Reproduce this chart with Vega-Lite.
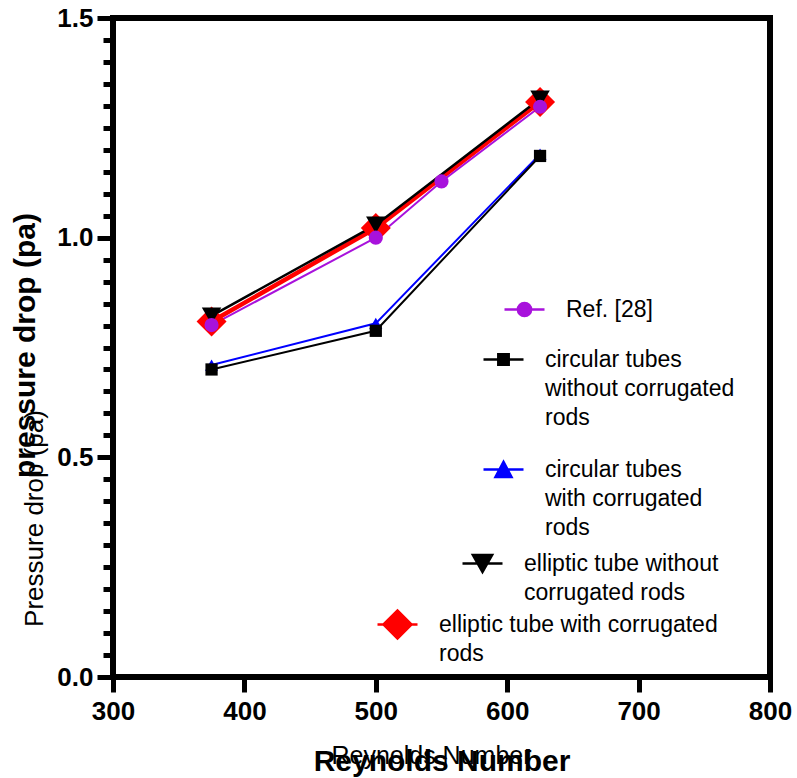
{
  "$schema": "https://vega.github.io/schema/vega-lite/v6.json",
  "width": 657,
  "height": 659,
  "autosize": {"type": "none"},
  "padding": {"left": 113, "top": 18, "right": 27, "bottom": 101},
  "data": {
    "values": [
      {"series": "Ref. [28]", "re": 375, "dp": 0.801},
      {"series": "Ref. [28]", "re": 500, "dp": 1.0},
      {"series": "Ref. [28]", "re": 550, "dp": 1.128},
      {"series": "Ref. [28]", "re": 625, "dp": 1.298},
      {"series": "circular tubes without corrugated rods", "re": 375, "dp": 0.70},
      {"series": "circular tubes without corrugated rods", "re": 500, "dp": 0.788},
      {"series": "circular tubes without corrugated rods", "re": 625, "dp": 1.186},
      {"series": "circular tubes with corrugated rods", "re": 375, "dp": 0.71},
      {"series": "circular tubes with corrugated rods", "re": 500, "dp": 0.805},
      {"series": "circular tubes with corrugated rods", "re": 625, "dp": 1.19},
      {"series": "elliptic tube without corrugated rods", "re": 375, "dp": 0.822},
      {"series": "elliptic tube without corrugated rods", "re": 500, "dp": 1.029},
      {"series": "elliptic tube without corrugated rods", "re": 625, "dp": 1.316},
      {"series": "elliptic tube with corrugated rods", "re": 375, "dp": 0.809},
      {"series": "elliptic tube with corrugated rods", "re": 500, "dp": 1.022},
      {"series": "elliptic tube with corrugated rods", "re": 625, "dp": 1.309}
    ]
  },
  "layer": [
    {
      "transform": [{"filter": "datum.series === 'elliptic tube with corrugated rods'"}],
      "mark": {"type": "line", "color": "#ff0000", "strokeWidth": 4.5},
      "encoding": {
        "x": {"field": "re", "type": "quantitative", "scale": {"domain": [300, 800], "nice": false, "zero": false},
          "axis": {"orient": "bottom", "values": [300, 400, 500, 600, 700, 800], "format": "d", "grid": false, "domain": false,
            "tickSize": 15, "tickWidth": 5, "tickColor": "black", "labelFlush": false,
            "labelFont": "Liberation Sans", "labelFontWeight": "bold", "labelFontSize": 26, "labelColor": "black", "labelPadding": 6,
            "title": "Reynolds Number", "titleFont": "Liberation Sans", "titleFontWeight": "bold", "titleFontSize": 30, "titleColor": "black",
            "titleBaseline": "alphabetic", "titleAlign": "center", "titleX": 328.5, "titleY": 93}},
        "y": {"field": "dp", "type": "quantitative", "scale": {"domain": [0, 1.5], "nice": false},
          "axis": {"orient": "left", "values": [0, 0.5, 1, 1.5], "format": ".1f", "grid": false, "domain": false,
            "tickSize": 16, "tickWidth": 5, "tickColor": "black",
            "labelFont": "Liberation Sans", "labelFontWeight": "bold", "labelFontSize": 26, "labelColor": "black", "labelPadding": 4,
            "title": "pressure drop (pa)", "titleFont": "Liberation Sans", "titleFontWeight": "bold", "titleFontSize": 30, "titleColor": "black",
            "titleBaseline": "alphabetic", "titleAngle": 270, "titleAlign": "center", "titleX": -79, "titleY": 327}}
      }
    },
    {
      "transform": [{"filter": "datum.series === 'elliptic tube without corrugated rods'"}],
      "mark": {"type": "line", "color": "#000000", "strokeWidth": 2.5},
      "encoding": {
        "x": {"field": "re", "type": "quantitative",
          "axis": {"orient": "bottom", "ticks": false, "labels": false, "domain": false, "grid": false,
            "title": "Reynolds Number", "titleFont": "Liberation Sans", "titleFontWeight": "normal", "titleFontSize": 25, "titleColor": "black",
            "titleBaseline": "alphabetic", "titleAlign": "center", "titleX": 318, "titleY": 86}},
        "y": {"field": "dp", "type": "quantitative",
          "axis": {"orient": "left", "values": [0.05, 0.1, 0.15, 0.2, 0.25, 0.3, 0.35, 0.4, 0.45, 0.55, 0.6, 0.65, 0.7, 0.75, 0.8, 0.85, 0.9, 0.95, 1.05, 1.1, 1.15, 1.2, 1.25, 1.3, 1.35, 1.4, 1.45],
            "ticks": true, "labels": false, "domain": false, "grid": false, "tickSize": 10, "tickWidth": 5, "tickColor": "#000000",
            "title": "Pressure drop (pa)", "titleFont": "Liberation Sans", "titleFontWeight": "normal", "titleFontSize": 26, "titleColor": "black",
            "titleBaseline": "alphabetic", "titleAngle": 270, "titleAlign": "center", "titleX": -71, "titleY": 500}}
      }
    },
    {
      "transform": [{"filter": "datum.series === 'circular tubes with corrugated rods'"}],
      "mark": {"type": "line", "color": "#0000ff", "strokeWidth": 2},
      "encoding": {
        "x": {"field": "re", "type": "quantitative", "axis": null},
        "y": {"field": "dp", "type": "quantitative", "axis": null}
      }
    },
    {
      "transform": [{"filter": "datum.series === 'circular tubes without corrugated rods'"}],
      "mark": {"type": "line", "color": "#000000", "strokeWidth": 2},
      "encoding": {
        "x": {"field": "re", "type": "quantitative", "axis": null},
        "y": {"field": "dp", "type": "quantitative", "axis": null}
      }
    },
    {
      "transform": [{"filter": "datum.series === 'Ref. [28]'"}],
      "mark": {"type": "line", "color": "#a812dc", "strokeWidth": 2},
      "encoding": {
        "x": {"field": "re", "type": "quantitative", "axis": null},
        "y": {"field": "dp", "type": "quantitative", "axis": null}
      }
    },
    {
      "transform": [{"filter": "datum.series === 'elliptic tube with corrugated rods'"}],
      "mark": {"type": "point", "filled": true, "shape": "diamond", "size": 900, "opacity": 1},
      "encoding": {
        "x": {"field": "re", "type": "quantitative", "axis": null},
        "y": {"field": "dp", "type": "quantitative", "axis": null},
        "color": {"field": "series", "type": "nominal", "scale": {"domain": ["elliptic tube with corrugated rods"], "range": ["#ff0000"]},
          "legend": {"orient": "none", "legendX": 263, "legendY": 585, "title": null, "padding": 0,
            "symbolType": "M-1,0H1M-0.7,0L0,-0.7L0.7,0L0,0.7Z", "symbolSize": 1600,
            "symbolFillColor": "#ff0000", "symbolStrokeColor": "#ff0000", "symbolStrokeWidth": 2.5, "symbolOpacity": 1,
            "labelFont": "Liberation Sans", "labelFontSize": 23, "labelColor": "black", "labelOffset": 20, "labelLimit": 500,
            "labelExpr": "['elliptic tube with corrugated', 'rods']",
            "encode": {"labels": {"update": {"lineHeight": {"value": 29}}}}}}
      }
    },
    {
      "transform": [{"filter": "datum.series === 'elliptic tube without corrugated rods'"}],
      "mark": {"type": "point", "filled": true, "shape": "triangle-down", "size": 380, "opacity": 1},
      "encoding": {
        "x": {"field": "re", "type": "quantitative", "axis": null},
        "y": {"field": "dp", "type": "quantitative", "axis": null},
        "color": {"field": "series", "type": "nominal", "scale": {"domain": ["elliptic tube without corrugated rods"], "range": ["#000000"]},
          "legend": {"orient": "none", "legendX": 348, "legendY": 524, "title": null, "padding": 0,
            "symbolType": "M-1,0H1M-0.48,-0.42H0.48L0,0.42Z", "symbolSize": 1600,
            "symbolFillColor": "#000000", "symbolStrokeColor": "#000000", "symbolStrokeWidth": 2.5, "symbolOpacity": 1,
            "labelFont": "Liberation Sans", "labelFontSize": 23, "labelColor": "black", "labelOffset": 20, "labelLimit": 500,
            "labelExpr": "['elliptic tube without', 'corrugated rods']",
            "encode": {"labels": {"update": {"lineHeight": {"value": 29}}}}}}
      }
    },
    {
      "transform": [{"filter": "datum.series === 'circular tubes with corrugated rods'"}],
      "mark": {"type": "point", "filled": true, "shape": "triangle-up", "size": 170, "opacity": 1},
      "encoding": {
        "x": {"field": "re", "type": "quantitative", "axis": null},
        "y": {"field": "dp", "type": "quantitative", "axis": null},
        "color": {"field": "series", "type": "nominal", "scale": {"domain": ["circular tubes with corrugated rods"], "range": ["#0000ff"]},
          "legend": {"orient": "none", "legendX": 369, "legendY": 430, "title": null, "padding": 0,
            "symbolType": "M-1,0H1M0,-0.38L0.4,0.38H-0.4Z", "symbolSize": 1600,
            "symbolFillColor": "#0000ff", "symbolStrokeColor": "#0000ff", "symbolStrokeWidth": 2.5, "symbolOpacity": 1,
            "labelFont": "Liberation Sans", "labelFontSize": 23, "labelColor": "black", "labelOffset": 20, "labelLimit": 500,
            "labelExpr": "['circular tubes', 'with corrugated', 'rods']",
            "encode": {"labels": {"update": {"lineHeight": {"value": 29}}}}}}
      }
    },
    {
      "transform": [{"filter": "datum.series === 'circular tubes without corrugated rods'"}],
      "mark": {"type": "point", "filled": true, "shape": "square", "size": 150, "opacity": 1},
      "encoding": {
        "x": {"field": "re", "type": "quantitative", "axis": null},
        "y": {"field": "dp", "type": "quantitative", "axis": null},
        "color": {"field": "series", "type": "nominal", "scale": {"domain": ["circular tubes without corrugated rods"], "range": ["#000000"]},
          "legend": {"orient": "none", "legendX": 369, "legendY": 320, "title": null, "padding": 0,
            "symbolType": "M-1,0H1M-0.26,-0.26H0.26V0.26H-0.26Z", "symbolSize": 1600,
            "symbolFillColor": "#000000", "symbolStrokeColor": "#000000", "symbolStrokeWidth": 2.5, "symbolOpacity": 1,
            "labelFont": "Liberation Sans", "labelFontSize": 23, "labelColor": "black", "labelOffset": 20, "labelLimit": 500,
            "labelExpr": "['circular tubes', 'without corrugated', 'rods']",
            "encode": {"labels": {"update": {"lineHeight": {"value": 29}}}}}}
      }
    },
    {
      "transform": [{"filter": "datum.series === 'Ref. [28]'"}],
      "mark": {"type": "point", "filled": true, "shape": "circle", "size": 200, "opacity": 1},
      "encoding": {
        "x": {"field": "re", "type": "quantitative", "axis": null},
        "y": {"field": "dp", "type": "quantitative", "axis": null},
        "color": {"field": "series", "type": "nominal", "scale": {"domain": ["Ref. [28]"], "range": ["#a812dc"]},
          "legend": {"orient": "none", "legendX": 390, "legendY": 270, "title": null, "padding": 0,
            "symbolType": "M-1,0H1M0.33,0A0.33,0.33 0 1,1 -0.33,0A0.33,0.33 0 1,1 0.33,0Z", "symbolSize": 1600,
            "symbolFillColor": "#a812dc", "symbolStrokeColor": "#a812dc", "symbolStrokeWidth": 2.5, "symbolOpacity": 1,
            "labelFont": "Liberation Sans", "labelFontSize": 23, "labelColor": "black", "labelOffset": 20, "labelLimit": 500,
            "labelExpr": "'Ref. [28]'"}}
      }
    }
  ],
  "resolve": {
    "scale": {"color": "independent"},
    "legend": {"color": "independent"},
    "axis": {"x": "independent", "y": "independent"}
  },
  "config": {
    "view": {"stroke": "black", "strokeWidth": 6},
    "background": "white"
  }
}
